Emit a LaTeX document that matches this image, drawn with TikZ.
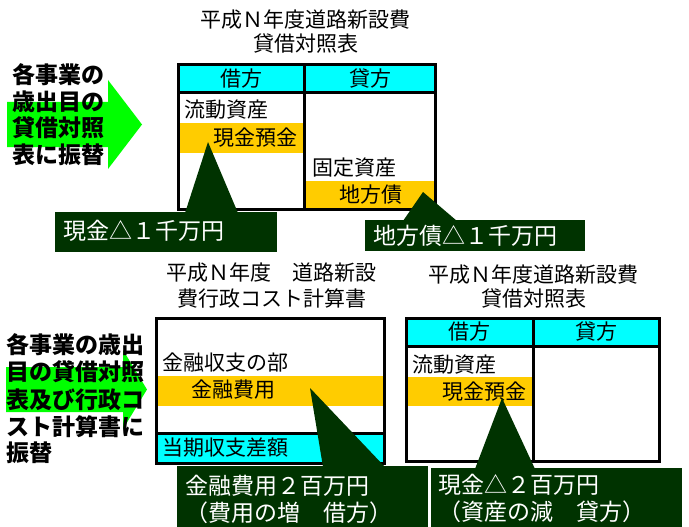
\documentclass[tikz,border=0pt]{standalone}
\usepackage{fontspec}
\newfontfamily\jp{Noto Sans CJK JP}
\definecolor{dkgreen}{HTML}{003300}
\definecolor{brgreen}{HTML}{00FF00}
\definecolor{ylw}{HTML}{FFCC00}
\definecolor{cyn}{HTML}{00FFFF}
\begin{document}
\begin{tikzpicture}[x=1pt,y=-1pt,
  txt/.style={font=\jp\fontsize{21}{25}\selectfont, inner sep=0pt, anchor=west},
  ctxt/.style={font=\jp\fontsize{21}{25}\selectfont, inner sep=0pt, anchor=center},
  bigl/.style={font=\jp\bfseries\fontsize{23}{27}\selectfont, inner sep=0pt, anchor=west},
  cotxt/.style={font=\jp\fontsize{23}{28}\selectfont, text=white, inner sep=0pt, anchor=west},
  frame/.style={draw=black, line width=3pt},
  callout/.style={fill=dkgreen},
  arrowshape/.style={fill=brgreen}]
\useasboundingbox (0,0) rectangle (689,527);

% ---------- left arrows and labels ----------
\path[arrowshape] (7,102) -- (108,102) -- (108,80) -- (142,124.5) -- (108,169) -- (108,147) -- (7,147) -- cycle;
\node[bigl] (la1) at (12,75) {各事業の};
\node[bigl] (la2) at (12,101.5) {歳出目の};
\node[bigl] (la3) at (12,128) {貸借対照};
\node[bigl] (la4) at (12,155) {表に振替};

\path[arrowshape] (6,367) -- (123,367) -- (123,350) -- (147,389.5) -- (123,429) -- (123,412) -- (6,412) -- cycle;
\node[bigl] (lb1) at (6,345) {各事業の歳出};
\node[bigl] (lb2) at (6,372) {目の貸借対照};
\node[bigl] (lb3) at (6,399.5) {表及び行政コ};
\node[bigl] (lb4) at (6,426.5) {スト計算書に};
\node[bigl] (lb5) at (6,453) {振替};

% ---------- top balance sheet ----------
\node[ctxt] (tt1) at (305.5,20) {平成Ｎ年度道路新設費};
\node[ctxt] (tt2) at (306,44) {貸借対照表};
\fill[cyn] (178.5,64.5) rectangle (435,93);
\fill[ylw] (178.5,123) rectangle (304.5,153);
\fill[ylw] (304.5,181) rectangle (435,208);
\draw[frame] (178.5,64.5) rectangle (435,209.5);
\draw[frame] (178.5,93) -- (435,93);
\draw[frame] (304.5,64.5) -- (304.5,209.5);
\node[ctxt] (th1) at (241.5,79) {借方};
\node[ctxt] (th2) at (370,79) {貸方};
\node[txt] (tr1) at (184,110) {流動資産};
\node[txt] (tr2) at (213,138) {現金預金};
\node[txt] (tr3) at (312,168) {固定資産};
\node[txt] (tr4) at (339,195) {地方債};

% ---------- cost statement ----------
\node[ctxt] (ct1) at (271.5,273) {平成Ｎ年度　道路新設};
\node[ctxt] (ct2) at (272,298) {費行政コスト計算書};
\fill[ylw] (156.5,376) rectangle (384.5,406);
\fill[cyn] (156.5,434) rectangle (384.5,461.5);
\draw[frame] (156.5,318.5) rectangle (384.5,463);
\draw[frame] (156.5,433.5) -- (384.5,433.5);
\node[txt] (cr1) at (162,363) {金融収支の部};
\node[txt] (cr2) at (191,390) {金融費用};
\node[txt] (cr3) at (162,448) {当期収支差額};

% ---------- bottom balance sheet ----------
\node[ctxt] (bt1) at (533.5,275) {平成Ｎ年度道路新設費};
\node[ctxt] (bt2) at (533.5,299) {貸借対照表};
\fill[cyn] (406,318.5) rectangle (659.5,346);
\fill[ylw] (406,377) rectangle (533,406);
\draw[frame] (406,318.5) rectangle (659.5,461.5);
\draw[frame] (406,346) -- (659.5,346);
\draw[frame] (533,318.5) -- (533,461.5);
\node[ctxt] (bh1) at (469.5,332) {借方};
\node[ctxt] (bh2) at (596,332) {貸方};
\node[txt] (br1) at (412,365) {流動資産};
\node[txt] (br2) at (442,392) {現金預金};

% ---------- callouts ----------
\fill[callout] (55,212) rectangle (277,252);
\fill[callout] (208,142) -- (185,213) -- (238,213) -- cycle;
\node[cotxt] (c1) at (63,231) {現金△１千万円};

\fill[callout] (365,220) rectangle (585,251);
\fill[callout] (423,192) -- (403,221) -- (457,221) -- cycle;
\node[cotxt] (c2) at (373,236) {地方債△１千万円};

\fill[callout] (177,466) rectangle (428,527);
\fill[callout] (310,388) -- (323,467) -- (385,467) -- cycle;
\node[cotxt] (c3a) at (185,486) {金融費用２百万円};
\node[cotxt] (c3b) at (185,513) {（費用の増　借方）};

\fill[callout] (431,468) rectangle (682,527);
\fill[callout] (502,398) -- (475,469) -- (535,469) -- cycle;
\node[cotxt] (c4a) at (438,485) {現金△２百万円};
\node[cotxt] (c4b) at (438,512) {（資産の減　貸方）};
\end{tikzpicture}
\end{document}
